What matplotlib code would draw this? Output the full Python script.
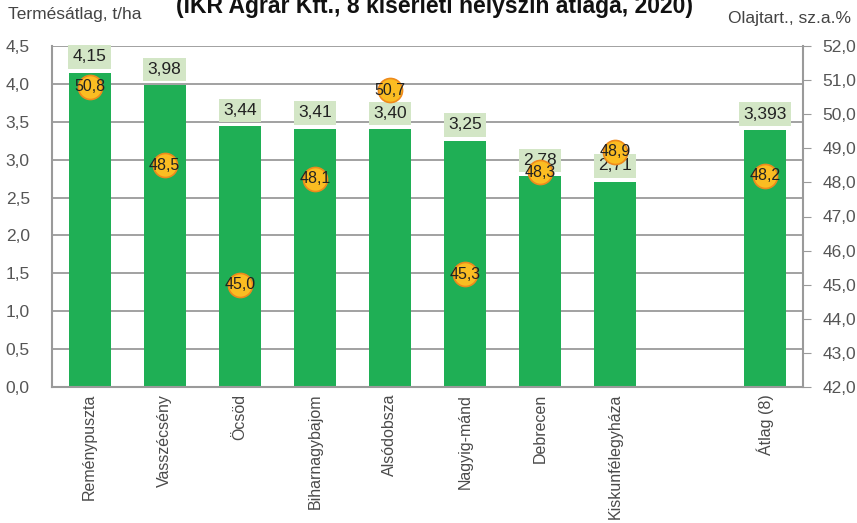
import matplotlib.pyplot as plt
import numpy as np

# Adatok
helyszinek = ['Reménypuszta', 'Vasszécsény', 'Öcsöd', 'Biharnagybajom', 'Alsódobsza',
              'Nagyig-mánd', 'Debrecen', 'Kiskunfélegyháza', 'Átlag (8)']
pozicio = [0, 1, 2, 3, 4, 5, 6, 7, 9]
termes = [4.15, 3.98, 3.44, 3.41, 3.40, 3.25, 2.78, 2.71, 3.393]
termes_cimke = ['4,15', '3,98', '3,44', '3,41', '3,40', '3,25', '2,78', '2,71', '3,393']
olaj = [50.8, 48.5, 45.0, 48.1, 50.7, 45.3, 48.3, 48.9, 48.2]

bal_tick = [0.0, 0.5, 1.0, 1.5, 2.0, 2.5, 3.0, 3.5, 4.0, 4.5]
jobb_tick = [42, 43, 44, 45, 46, 47, 48, 49, 50, 51, 52]

plt.rcParams['font.family'] = ['Liberation Sans', 'DejaVu Sans']

fig = plt.figure(figsize=(8.57, 5.23), dpi=100)
ax = fig.add_axes([52 / 857, 1 - 387 / 523, (803 - 52) / 857, (387 - 46) / 523])

szurke = '#9a9a9a'
ax.bar(pozicio, termes, width=0.56, color='#1faf55', zorder=2)
ax.set_xlim(-0.5, 9.5)
ax.set_ylim(0, 4.5)
ax.set_yticks(bal_tick)
ax.set_yticklabels([f'{v:.1f}'.replace('.', ',') for v in bal_tick])
ax.grid(axis='y', color=szurke, linewidth=1.3, zorder=0)
ax.set_axisbelow(True)
ax.tick_params(axis='y', length=0, labelsize=12.5, labelcolor='#555555', pad=16)
ax.set_xticks(pozicio)
ax.set_xticklabels(helyszinek, rotation=90, fontsize=11.5, color='#4a4a4a')
ax.tick_params(axis='x', length=0, pad=5)
for s in ['top', 'right']:
    ax.spines[s].set_visible(False)
for s in ['left', 'bottom']:
    ax.spines[s].set_color(szurke)
    ax.spines[s].set_linewidth(1.5)

# terméscímkék
for x, v, c in zip(pozicio, termes, termes_cimke):
    ax.annotate(c, (x, v), xytext=(0, 6), textcoords='offset points', ha='center', va='bottom',
                fontsize=12.5, color='#222222', zorder=3,
                bbox=dict(boxstyle='square,pad=0.25', facecolor='#d3e6c6', edgecolor='none'))

# olajtartalom
ax2 = ax.twinx()
ax2.set_ylim(42, 52)
ax2.set_yticks(jobb_tick)
ax2.set_yticklabels([f'{v:.1f}'.replace('.', ',') for v in jobb_tick])
ax2.tick_params(axis='y', direction='out', length=6, color=szurke, labelsize=12.5,
                labelcolor='#555555', pad=8)
for s in ['top', 'left', 'bottom']:
    ax2.spines[s].set_visible(False)
ax2.spines['right'].set_color(szurke)
ax2.spines['right'].set_linewidth(1.5)
ax2.scatter(pozicio, olaj, s=300, color='#fbbd22', edgecolor='#ee8a1c', linewidth=1.2, zorder=4)
for x, v in zip(pozicio, olaj):
    ax2.text(x, v, f'{v:.1f}'.replace('.', ','), ha='center', va='center', fontsize=11.5,
             color='#222222', zorder=5)

fig.text(8 / 857, 1 - 14 / 523, 'Termésátlag, t/ha', fontsize=12.5, color='#444444', va='center')
fig.text(851 / 857, 1 - 18 / 523, 'Olajtart., sz.a.%', fontsize=12.5, color='#444444',
         va='center', ha='right')
fig.text(434 / 857, 1 - 13 / 523, '(IKR Agrár Kft., 8 kísérleti helyszín átlaga, 2020)',
         fontsize=16.5, fontweight='bold', ha='center', va='baseline', color='#111111')

fig.savefig('out.png', dpi=100, facecolor='white')
